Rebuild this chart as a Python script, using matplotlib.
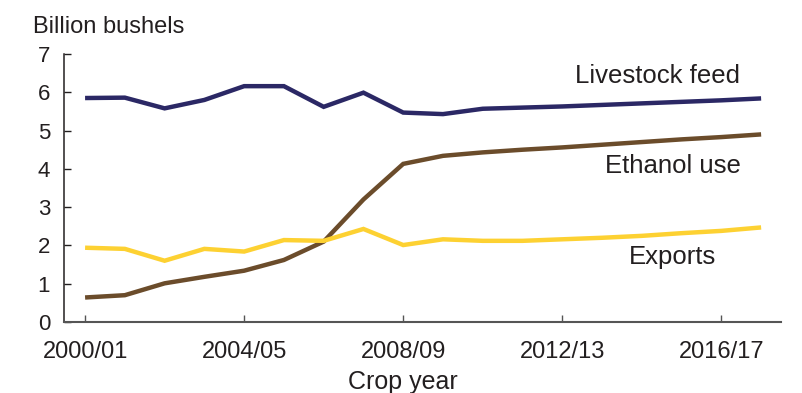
import matplotlib
matplotlib.use("Agg")
import matplotlib.pyplot as plt
import numpy as np

plt.rcParams["font.family"] = ["Liberation Sans", "DejaVu Sans"]

# Crop years 2000/01 through 2017/18
crop_years = [f"{y}/{(y + 1) % 100:02d}" for y in range(2000, 2018)]

# Corn use, billion bushels
livestock_feed = [5.85, 5.86, 5.58, 5.80, 6.16, 6.16, 5.62, 5.99, 5.47, 5.43,
                  5.57, 5.60, 5.63, 5.67, 5.71, 5.75, 5.79, 5.84]
ethanol_use = [0.64, 0.70, 1.01, 1.18, 1.34, 1.62, 2.10, 3.20, 4.13, 4.34,
               4.43, 4.50, 4.56, 4.63, 4.70, 4.77, 4.83, 4.90]
exports = [1.94, 1.91, 1.60, 1.91, 1.84, 2.14, 2.12, 2.43, 2.01, 2.16,
           2.12, 2.12, 2.16, 2.20, 2.25, 2.32, 2.38, 2.47]

tick_labels = ["2000/01", "2004/05", "2008/09", "2012/13", "2016/17"]

W, H = 803, 393
fig = plt.figure(figsize=(W / 100, H / 100), dpi=100)
ax = fig.add_axes([64 / W, (H - 322) / H, (781 - 64) / W, (322 - 54) / H])

x = np.arange(len(crop_years))
lw = 3.2
ax.plot(x, livestock_feed, color="#2b2865", lw=lw, solid_joinstyle="miter", solid_capstyle="butt")
ax.plot(x, ethanol_use, color="#6b4c2b", lw=lw, solid_joinstyle="miter", solid_capstyle="butt")
ax.plot(x, exports, color="#fdd132", lw=lw, solid_joinstyle="miter", solid_capstyle="butt")

# Series labels
ax.text(16.48, 6.24, "Livestock feed", ha="right", va="baseline", fontsize=18.5, color="#231f20")
ax.text(16.48, 3.89, "Ethanol use", ha="right", va="baseline", fontsize=18.5, color="#231f20")
ax.text(14.77, 1.52, "Exports", ha="center", va="baseline", fontsize=18.5, color="#231f20")

ax.set_xlim(-0.53, 17.5)
ax.set_ylim(0, 7)
ax.set_yticks(range(0, 8))
ax.set_xticks([crop_years.index(t) for t in tick_labels])
ax.set_xticklabels(tick_labels)

for side in ("top", "right"):
    ax.spines[side].set_visible(False)
ax.spines["left"].set_color("#231f20")
ax.spines["left"].set_linewidth(1.1)
ax.spines["bottom"].set_color("#555555")
ax.spines["bottom"].set_linewidth(1.5)

ax.tick_params(axis="y", direction="in", length=5, width=1, color="#231f20",
               labelsize=16, pad=10, labelcolor="#231f20")
ax.tick_params(axis="x", direction="in", length=5, width=1, color="#555555",
               labelsize=17, pad=14, labelcolor="#231f20")

fig.text(33 / W, 1 - 33 / H, "Billion bushels", ha="left", va="baseline",
         fontsize=17, color="#231f20")
fig.text(403 / W, 4 / H, "Crop year", ha="center", va="baseline",
         fontsize=18, color="#231f20")

fig.savefig("out.png", dpi=100)
